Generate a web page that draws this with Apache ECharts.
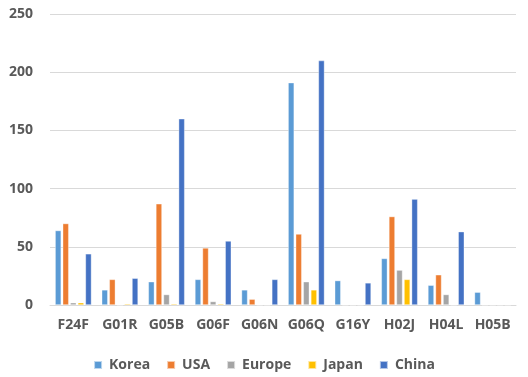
<!DOCTYPE html>
<html>
<head>
<meta charset="utf-8">
<script src="https://cdn.jsdelivr.net/npm/echarts@6/dist/echarts.min.js"></script>
<style>
  html, body { margin: 0; padding: 0; background: #fff; }
  #chart { width: 528px; height: 377px; }
</style>
</head>
<body>
<div id="chart"></div>
<script>
// Patent counts by IPC subclass and country/region
const categories = ['F24F', 'G01R', 'G05B', 'G06F', 'G06N', 'G06Q', 'G16Y', 'H02J', 'H04L', 'H05B'];
const korea  = [64, 13, 20, 22, 13, 191, 21, 40, 17, 11];
const usa    = [70, 22, 87, 49, 5, 61, 0, 76, 26, 0];
const europe = [2, 0, 9, 3, 0, 20, 0, 30, 9, 0];
const japan  = [2, 1, 1, 1, 0, 13, 0, 22, 0, 0];
const china  = [44, 23, 160, 55, 22, 210, 19, 91, 63, 0];
const yTicks = [0, 50, 100, 150, 200, 250];

const seriesDefs = [
  { name: 'Korea',  data: korea,  color: '#5B9BD5' },
  { name: 'USA',    data: usa,    color: '#ED7D31' },
  { name: 'Europe', data: europe, color: '#A5A5A5' },
  { name: 'Japan',  data: japan,  color: '#FFC000' },
  { name: 'China',  data: china,  color: '#4472C4' }
];

const font = '"Open Sans", "Liberation Sans", sans-serif';
const chart = echarts.init(document.getElementById('chart'));
chart.setOption({
  animation: false,
  textStyle: { fontFamily: font },
  grid: { left: 50, right: 12, top: 14, bottom: 72 },
  legend: {
    bottom: 0,
    left: 'center',
    itemWidth: 8,
    itemHeight: 8,
    itemGap: 16,
    icon: 'rect',
    textStyle: { color: '#595959', fontSize: 14, fontWeight: 'bold', fontFamily: font, padding: [0, 0, 0, 2] },
    data: seriesDefs.map(s => s.name)
  },
  xAxis: {
    type: 'category',
    data: categories,
    axisLine: { lineStyle: { color: '#D9D9D9', width: 1 } },
    axisTick: { show: false },
    axisLabel: { interval: 0, color: '#595959', fontSize: 14, fontWeight: 'bold', margin: 13, fontFamily: font }
  },
  yAxis: {
    type: 'value',
    min: yTicks[0],
    max: yTicks[yTicks.length - 1],
    interval: 50,
    axisLine: { show: false },
    axisTick: { show: false },
    splitLine: { lineStyle: { color: '#D9D9D9', width: 1 } },
    axisLabel: { color: '#595959', fontSize: 14, fontWeight: 'bold', margin: 17, fontFamily: font }
  },
  series: seriesDefs.map(s => ({
    name: s.name,
    type: 'bar',
    data: s.data,
    barGap: '25%',
    barCategoryGap: '22%',
    itemStyle: { color: s.color, borderColor: 'rgba(255,255,255,0.6)', borderWidth: 0.6 }
  }))
});
</script>
</body>
</html>
